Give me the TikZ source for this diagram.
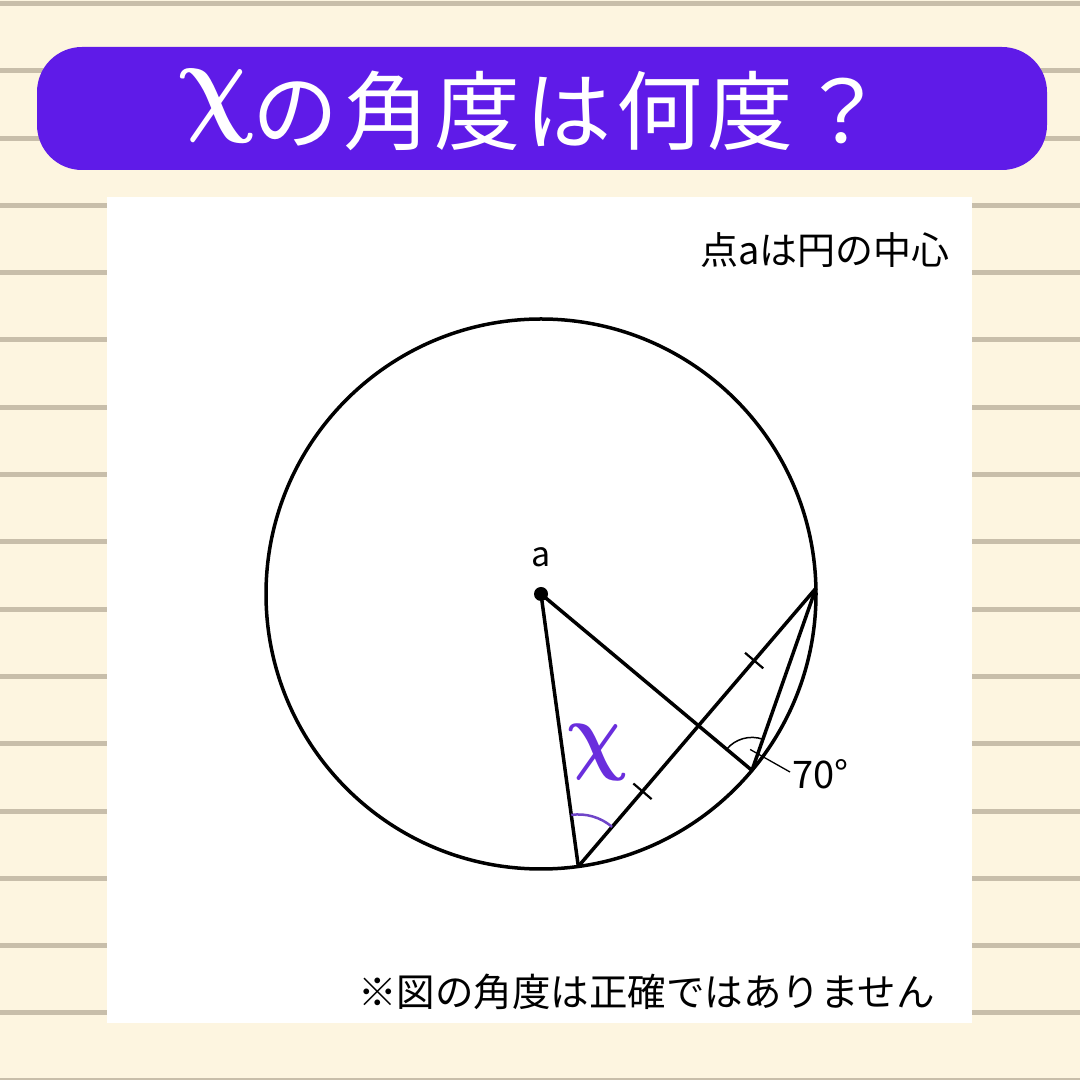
\documentclass[tikz,border=0pt]{standalone}
\usepackage{fontspec}
\usepackage{bm}
\setmainfont{Noto Sans CJK JP}
\newfontfamily\jp{Noto Sans CJK JP}
\newfontfamily\jpwide[LetterSpace=6]{Noto Sans CJK JP}
\usetikzlibrary{calc,angles}
\definecolor{bgcream}{HTML}{FDF5E0}
\definecolor{rulegray}{HTML}{C8BEAA}
\definecolor{banner}{HTML}{5F1BE8}
\definecolor{xpurple}{HTML}{6A2EDD}
\definecolor{arcpurple}{HTML}{6F45C8}
\tikzset{
  geo/.style={line width=3.5pt, black},
  tick/.style={line width=2.2pt, black},
  thinline/.style={line width=1.3pt, black},
  lbl/.style={inner sep=0pt, font=\jp\fontsize{34}{40}\selectfont},
}
\begin{document}
\begin{tikzpicture}[x=1pt,y=1pt]
\useasboundingbox (0,0) rectangle (1080,1080);
\fill[bgcream] (0,0) rectangle (1080,1080);
\foreach \k in {0,...,16} {
  \fill[rulegray] (0,{1076.5-67.3*\k-2.5}) rectangle (1080,{1076.5-67.3*\k+2.5});
}
% banner
\fill[banner, rounded corners=45pt] (37,910) rectangle (1047,1033);
\node[inner sep=0pt, text=white, xslant=-0.18, xscale=10, yscale=11.5] (chi) at (217,974) {$\bm{\chi}$};
\node[inner sep=0pt, anchor=west, text=white, font=\jpwide\fontsize{86}{94}\selectfont] (title) at (252,969) {の角度は何度？};
% panel
\fill[white] (107,57) rectangle (972,883);
\node[lbl, anchor=east, font=\jp\fontsize{38}{42}\selectfont] (note) at (950,830) {点aは円の中心};
\node[lbl, anchor=east, font=\jp\fontsize{38.5}{42}\selectfont] (warn) at (935,88) {※図の角度は正確ではありません};
% geometry
\coordinate (a) at (541,486);
\coordinate (B) at ($(a)+(-82.2:275)$);
\coordinate (C) at ($(a)+(1.2:275)$);
\coordinate (D) at ($(a)+(-39.9:275)$);
\draw[geo] (a) circle (275);
\draw[geo] (a) -- (B);
\draw[geo] (a) -- (D);
\draw[geo] (B) -- (C);
\draw[geo] (C) -- (D);
\fill (a) circle (7);
\node[lbl] (alabel) at (541,523) {a};
% ticks
\coordinate (T1) at ($(B)!0.27!(C)$);
\coordinate (T2) at ($(B)!0.74!(C)$);
\draw[tick] ($(T1)!12pt!90:(C)$) -- ($(T1)!12pt!-90:(C)$);
\draw[tick] ($(T2)!12pt!90:(C)$) -- ($(T2)!12pt!-90:(C)$);
% angle x
\pic[draw=arcpurple, line width=2.5pt, angle radius=52pt] {angle=C--B--a};
\node[inner sep=0pt, text=xpurple, xslant=-0.18, xscale=7.8, yscale=8.8] (xlab) at (598,327) {$\bm{\chi}$};
% angle 70
\pic[draw=black, line width=1.5pt, angle radius=33pt] {angle=C--D--a};
\coordinate (L1) at ($(D)+(95:21)$);
\node[lbl, anchor=west, font=\jp\fontsize{38}{42}\selectfont] (seventy) at (792,306) {70°};
\draw[thinline] (L1) -- ($(seventy.west)+(-2,2)$);
\end{tikzpicture}
\end{document}
